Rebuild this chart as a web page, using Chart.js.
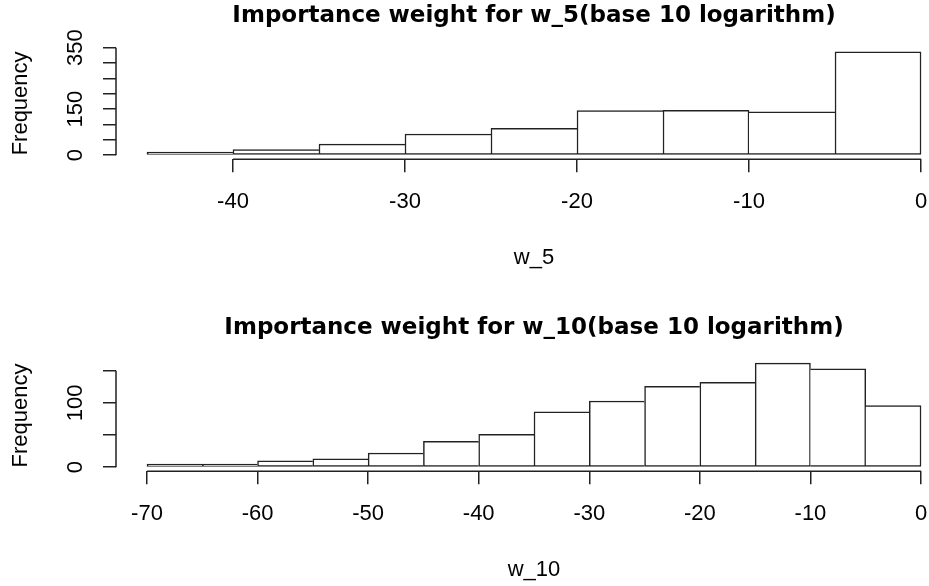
<!DOCTYPE html>
<html>
<head>
<meta charset="utf-8">
<script src="https://cdn.jsdelivr.net/npm/chart.js@4/dist/chart.umd.min.js"></script>
<style>
  html, body { margin: 0; padding: 0; background: #fff; overflow: hidden; }
  .panel { position: absolute; left: 0; width: 960px; height: 293px; }
</style>
</head>
<body>
<div class="panel" style="top:0"><canvas id="top-chart" width="960" height="293"></canvas></div>
<div class="panel" style="top:293px"><canvas id="bottom-chart" width="960" height="293"></canvas></div>
<script>
// top histogram: log10 importance weight for w_5
const topBinEdges = [-45, -40, -35, -30, -25, -20, -15, -10, -5, 0];
const topCounts = [3, 18, 36, 69, 87, 145, 146, 141, 336];
const topYTickLabels = [0, 150, 350];

// bottom histogram: log10 importance weight for w_10
const bottomBinEdges = [-70, -65, -60, -55, -50, -45, -40, -35, -30, -25, -20, -15, -10, -5, 0];
const bottomCounts = [2, 2, 10, 13, 22, 40, 51, 86, 103, 126, 132, 162, 153, 96];
const bottomYTickLabels = [0, 100];

const INK = '#222';
const LW = 1.5;
Chart.defaults.font.family = "'Liberation Sans', Arial, sans-serif";
Chart.defaults.color = '#000';

// R style axis: the line only runs from the first tick to the last one
const rAxisLines = {
  id: 'rAxisLines',
  afterDraw(chart) {
    const {ctx, chartArea, scales} = chart;
    const x = scales.x, y = scales.y;
    ctx.save();
    ctx.strokeStyle = INK;
    ctx.lineWidth = LW;
    ctx.beginPath();
    ctx.moveTo(x.getPixelForValue(x.ticks[0].value), chartArea.bottom);
    ctx.lineTo(x.getPixelForValue(x.ticks[x.ticks.length - 1].value), chartArea.bottom);
    ctx.moveTo(chartArea.left, y.getPixelForValue(y.ticks[0].value));
    ctx.lineTo(chartArea.left, y.getPixelForValue(y.ticks[y.ticks.length - 1].value));
    ctx.stroke();
    ctx.restore();
  }
};

function binPoints(edges, counts) {
  return counts.map((c, i) => ({ x: (edges[i] + edges[i + 1]) / 2, y: c }));
}

// a shared edge is drawn once, by the taller of the two bars
function edgeWidths(counts) {
  return (c) => {
    const i = c.dataIndex, n = counts.length;
    return {
      top: LW,
      bottom: LW,
      left: (i === 0 || counts[i] >= counts[i - 1]) ? LW : 0,
      right: (i === n - 1 || counts[i] > counts[i + 1]) ? LW : 0
    };
  };
}

function makeHistogram(canvasId, cfg) {
  const ctx = document.getElementById(canvasId).getContext('2d');
  return new Chart(ctx, {
    type: 'bar',
    data: {
      datasets: [{
        data: binPoints(cfg.edges, cfg.counts),
        backgroundColor: '#fff',
        borderColor: INK,
        borderWidth: edgeWidths(cfg.counts),
        borderSkipped: false,
        barPercentage: 1,
        categoryPercentage: 1,
        minBarLength: 2 * LW
      }]
    },
    options: {
      responsive: false,
      animation: false,
      layout: { padding: { top: 0, left: 0, right: 8, bottom: 0 } },
      plugins: {
        legend: { display: false },
        tooltip: { enabled: false },
        title: {
          display: true,
          text: cfg.title,
          fullSize: false,
          color: '#000',
          font: { family: "'DejaVu Sans', sans-serif", size: 23, weight: 'bold', lineHeight: 1 },
          padding: cfg.titlePadding
        }
      },
      scales: {
        x: {
          type: 'linear',
          offset: false,
          min: cfg.xMin,
          max: cfg.xMax,
          afterFit: (scale) => { scale.height = cfg.xHeight; },
          grid: { display: true, offset: false, drawOnChartArea: false, drawTicks: true, tickLength: 13, color: INK, lineWidth: LW },
          border: { display: false },
          ticks: {
            stepSize: 10,
            includeBounds: false,
            autoSkip: false,
            maxRotation: 0,
            padding: 16,
            font: { size: 22 },
            color: '#000'
          },
          title: {
            display: true,
            text: cfg.xTitle,
            color: '#000',
            font: { size: 22, lineHeight: 1.2 },
            padding: { top: 0, bottom: cfg.xTitleBottom }
          }
        },
        y: {
          type: 'linear',
          min: cfg.yMin,
          max: cfg.yMax,
          afterFit: (scale) => { scale.width = 116; },
          grid: { display: true, drawOnChartArea: false, drawTicks: true, tickLength: 13, color: INK, lineWidth: LW },
          border: { display: false },
          ticks: {
            stepSize: 50,
            includeBounds: false,
            autoSkip: false,
            minRotation: 90,
            maxRotation: 90,
            crossAlign: 'center',
            padding: 8.5,
            font: { size: 22 },
            color: '#000',
            callback: (value) => cfg.yLabels.includes(value) ? String(value) : ''
          },
          title: {
            display: true,
            text: 'Frequency',
            color: '#000',
            font: { size: 22, lineHeight: 1.2 },
            padding: { top: 8, bottom: 0 }
          }
        }
      }
    },
    plugins: [rAxisLines]
  });
}

makeHistogram('top-chart', {
  title: 'Importance weight for w_5(base 10 logarithm)',
  titlePadding: { top: 4.5, bottom: 20 },
  edges: topBinEdges,
  counts: topCounts,
  yLabels: topYTickLabels,
  xMin: -46.8, xMax: 1.8,
  yMin: -13.5, yMax: 350.5,
  xHeight: 133.7,
  xTitle: 'w_5',
  xTitleBottom: 21.5
});

makeHistogram('bottom-chart', {
  title: 'Importance weight for w_10(base 10 logarithm)',
  titlePadding: { top: 23.5, bottom: 20.1 },
  edges: bottomBinEdges,
  counts: bottomCounts,
  yLabels: bottomYTickLabels,
  xMin: -72.8, xMax: 2.8,
  yMin: -6.5, yMax: 167.5,
  xHeight: 114.7,
  xTitle: 'w_10',
  xTitleBottom: 2.5
});
</script>
</body>
</html>
